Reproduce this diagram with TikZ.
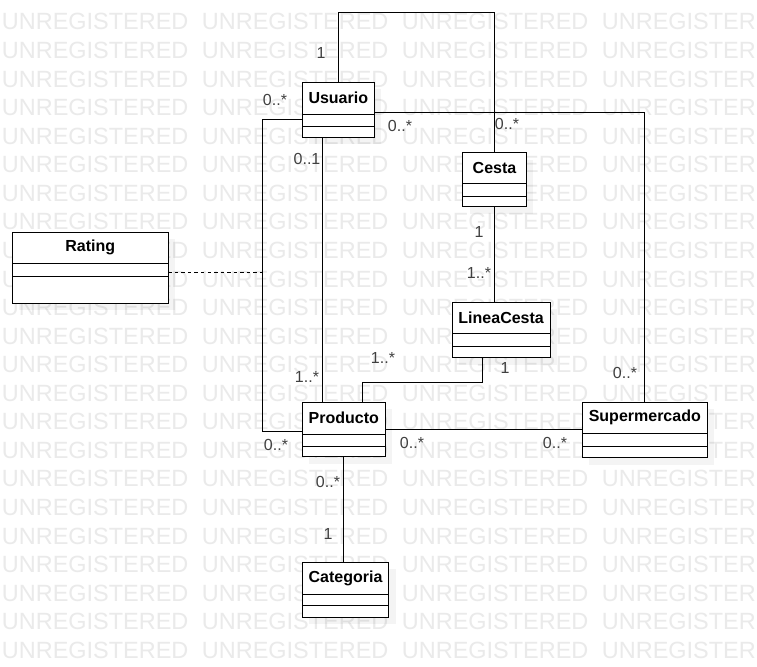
\documentclass[tikz,border=0pt]{standalone}
\usepackage{fontspec}
\setmainfont{Liberation Sans}
\usetikzlibrary{calc}
\definecolor{wmgray}{RGB}{234,234,234}
\tikzset{
  wm/.style={font=\fontsize{17.6pt}{18pt}\selectfont, text=wmgray, inner sep=0pt, anchor=base west},
  classbox/.style={draw=black, line width=0.75pt, fill=white, inner sep=0pt, outer sep=0pt},
  boxline/.style={draw=black, line width=0.7pt},
  shadowbox/.style={fill=black, opacity=0.045},
  classtitle/.style={font=\fontsize{12pt}{14pt}\selectfont\bfseries, inner sep=0pt},
  assoc/.style={draw=black, line width=0.75pt},
  mult/.style={font=\fontsize{12pt}{14pt}\selectfont, text=black!75, inner sep=0pt},
  dep/.style={draw=black, line width=0.75pt, dash pattern=on 2.6pt off 2.3pt}
}
\newcommand\umlclass[8]{%
  \fill[shadowbox] ({#2+7},{#3+7}) rectangle ({#4+7},{#5+7});
  \node[classbox, minimum width={(#4-#2)*0.75pt}, minimum height={(#5-#3)*0.75pt}] (#1) at ({(#2+#4)/2},{(#3+#5)/2}) {};
  \draw[boxline] (#2,#6) -- (#4,#6) (#2,#7) -- (#4,#7);
  \node[classtitle] (#1-t) at ({(#2+#4)/2},{(#3+#6)/2}) {#8};
}
\begin{document}
\begin{tikzpicture}[x=0.75pt, y=-0.75pt]
\useasboundingbox (0,0) rectangle (757,667);
\fill[white] (0,0) rectangle (757,667);
\begin{scope}
\clip (0,0) rectangle (757,667);
\foreach \r in {0,...,22}{
  \foreach \c in {0,...,3}{
    \node[wm] (wm-\r-\c) at ({1.7+200*\c},{30+28.56*\r}) {UNREGISTERED};
  }
}
\end{scope}

% classes
\umlclass{usuario}{302.3}{82.3}{374.3}{137}{114}{126.3}{Usuario}
\umlclass{cesta}{462.7}{152.7}{526.3}{206.7}{183.3}{196.7}{Cesta}
\umlclass{rating}{12.3}{232.3}{168.3}{303.3}{263.3}{276}{Rating}
\umlclass{lineacesta}{452.3}{302.3}{550}{357.7}{333.3}{346.7}{LineaCesta}
\umlclass{producto}{302.3}{402.3}{385.3}{456.7}{434}{446.7}{Producto}
\umlclass{supermercado}{582.3}{402.3}{707.3}{457.7}{433.3}{446}{Supermercado}
\umlclass{categoria}{302.3}{562.3}{388.7}{617}{594}{605.7}{Categoria}

% helper coordinates
\coordinate (toploop) at (415,12.7);
\coordinate (uR) at (374.3,113);
\coordinate (uL) at (302.3,119.3);
\coordinate (leftx) at (262.8,0);
\coordinate (pL) at (302.3,431.7);
\coordinate (uB) at (322.3,137);
\coordinate (lcB) at (482.7,357.7);
\coordinate (lcbend) at (362.7,382.3);
\coordinate (rE) at (168.3,272.3);
\coordinate (depend) at (262.8,272.3);

% associations
\draw[assoc] (usuario.north) |- (toploop) -| (cesta.north);
\draw[assoc] (uR) -| (supermercado.north);
\draw[assoc] (uL) -- (uL -| leftx) |- (pL);
\draw[assoc] (uB) -- (uB |- producto.north);
\draw[assoc] (cesta.south) -- (cesta.south |- lineacesta.north);
\draw[assoc] (lcB) |- (lcbend) -- (lcbend |- producto.north);
\draw[assoc] (producto.east) -- (producto.east -| supermercado.west);
\draw[assoc] (producto.south) -- (producto.south |- categoria.north);
\draw[dep] (rE) -- (depend);

% multiplicities
\node[mult] (m1) at (321,53) {1};
\node[mult] (m2) at (275,100) {0..*};
\node[mult] (m3) at (400,126) {0..*};
\node[mult] (m4) at (507,124) {0..*};
\node[mult] (m5) at (307,159) {0..1};
\node[mult] (m6) at (479,232) {1};
\node[mult] (m7) at (479,273) {1..*};
\node[mult] (m8) at (383,358) {1..*};
\node[mult] (m9) at (505,368) {1};
\node[mult] (m10) at (307,377) {1..*};
\node[mult] (m11) at (625,373) {0..*};
\node[mult] (m12) at (276,445) {0..*};
\node[mult] (m13) at (412,443) {0..*};
\node[mult] (m14) at (555,443) {0..*};
\node[mult] (m15) at (328,482) {0..*};
\node[mult] (m16) at (328,534) {1};
\end{tikzpicture}
\end{document}
